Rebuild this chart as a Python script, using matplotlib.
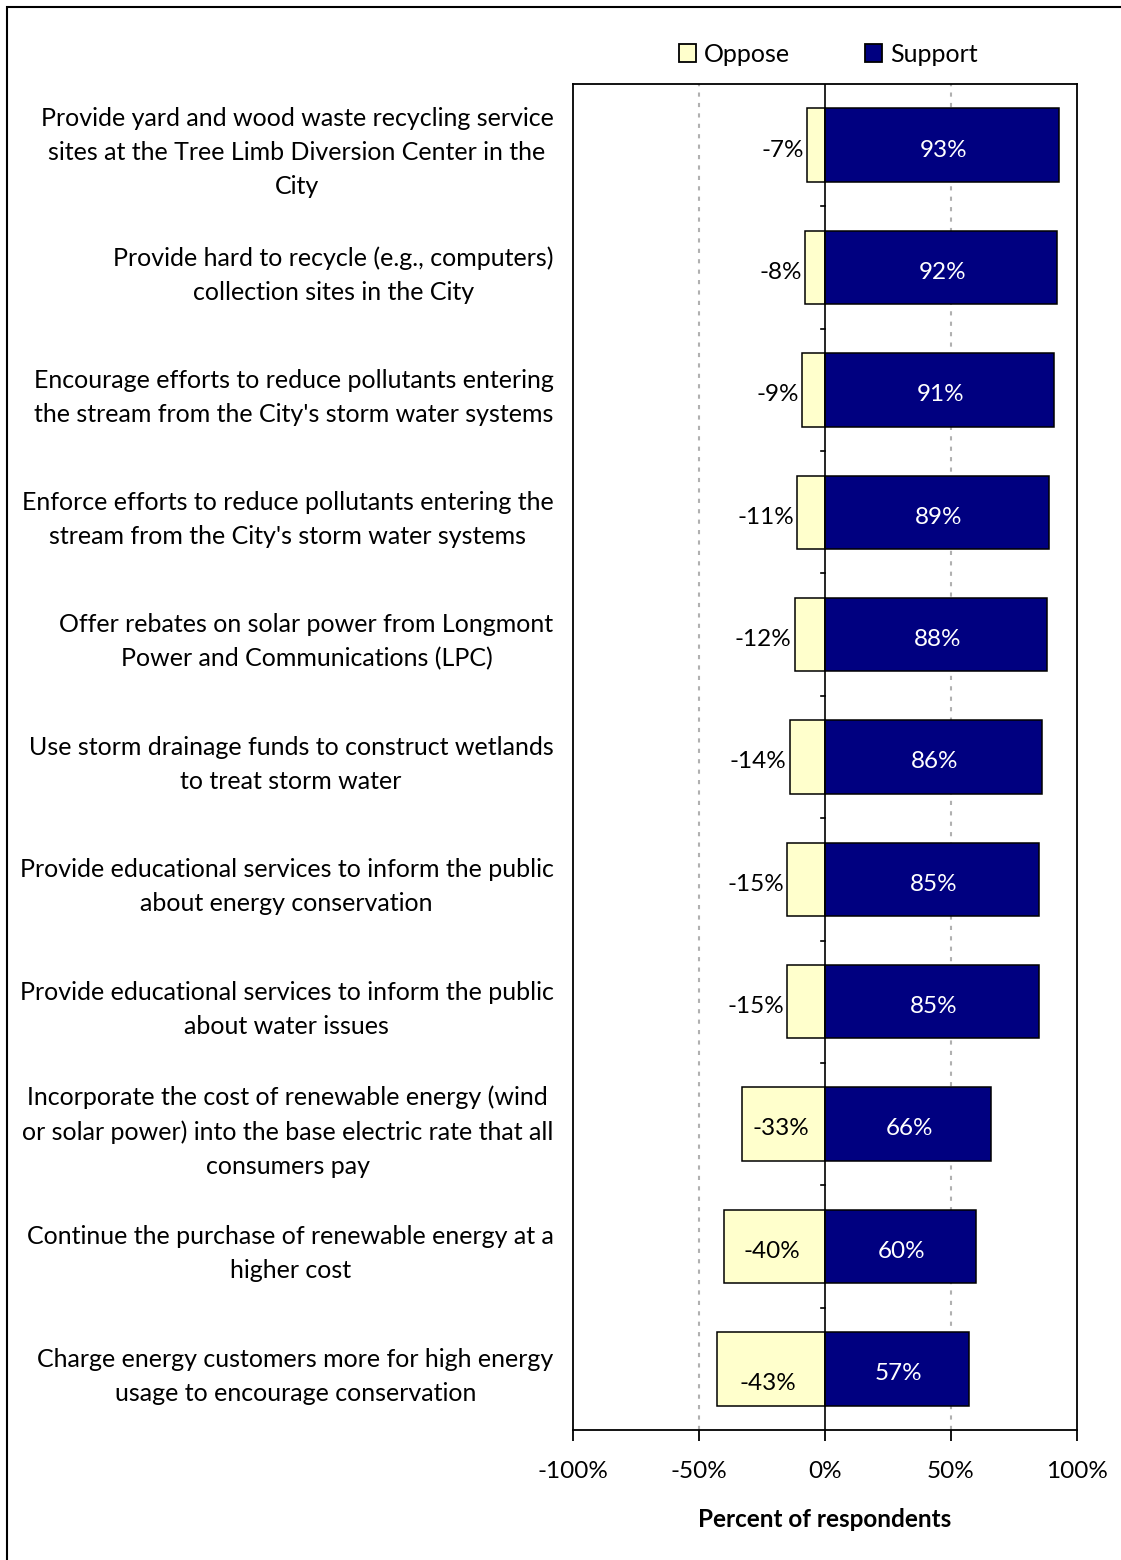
import matplotlib.pyplot as plt
from matplotlib.patches import Rectangle
import numpy as np

plt.rcParams['font.family'] = ['Lato', 'DejaVu Sans']

categorias = [
    "Provide yard and wood waste recycling service\nsites at the Tree Limb Diversion Center in the\nCity",
    "Provide hard to recycle (e.g., computers)\ncollection sites in the City",
    "Encourage efforts to reduce pollutants entering\nthe stream from the City's storm water systems",
    "Enforce efforts to reduce pollutants entering the\nstream from the City's storm water systems",
    "Offer rebates on solar power from Longmont\nPower and Communications (LPC)",
    "Use storm drainage funds to construct wetlands\nto treat storm water",
    "Provide educational services to inform the public\nabout energy conservation",
    "Provide educational services to inform the public\nabout water issues",
    "Incorporate the cost of renewable energy (wind\nor solar power) into the base electric rate that all\nconsumers pay",
    "Continue the purchase of renewable energy at a\nhigher cost",
    "Charge energy customers more for high energy\nusage to encourage conservation",
]
oppose = [-7, -8, -9, -11, -12, -14, -15, -15, -33, -40, -43]
support = [93, 92, 91, 89, 88, 86, 85, 85, 66, 60, 57]
xticks = [-100, -50, 0, 50, 100]
xtick_labels = ['-100%', '-50%', '0%', '50%', '100%']

cor_oppose = '#FFFFCC'
cor_support = '#000080'

fig = plt.figure(figsize=(11.21, 15.6), dpi=100)
ax = fig.add_axes([573 / 1121, 1 - 1430 / 1560, 504 / 1121, 1346 / 1560])

# moldura externa
fig.patches.append(Rectangle((7 / 1121, -0.05), 1.2, 1 - 7 / 1560 + 0.05,
                             transform=fig.transFigure, fill=False,
                             edgecolor='black', linewidth=1.5))

n = len(categorias)
y = np.arange(n)
altura = 0.6

ax.barh(y, oppose, height=altura, color=cor_oppose, edgecolor='black',
        linewidth=1.1, label='Oppose', zorder=3)
ax.barh(y, support, height=altura, color=cor_support, edgecolor='black',
        linewidth=1.1, label='Support', zorder=3)

ax.set_xlim(-100, 100)
ax.set_ylim(n - 0.5, -0.5)

fs_val = 17.5
for i in range(n):
    o = oppose[i]
    if abs(o) < 20:
        ax.text(o - 1.2, y[i] + 0.04, f'{o}%', ha='right', va='center',
                fontsize=fs_val, color='black', zorder=4)
    else:
        ax.text(o / 2 - 1, y[i] + (0.12 if i == n - 1 else 0.04), f'{o}%',
                ha='center', va='center', fontsize=fs_val, color='black', zorder=4)
    ax.text(support[i] / 2 + 0.5, y[i] + 0.04, f'{support[i]}%',
            ha='center', va='center', fontsize=fs_val, color='white', zorder=4)

# linhas de grade e eixo zero
for gx in [-50, 50]:
    ax.axvline(gx, color='#b0b0b0', linestyle=(0, (2, 3)), linewidth=1.5, zorder=1)
ax.axvline(0, color='black', linewidth=1.2, zorder=5)

# marcas pequenas entre categorias no zero
for b in np.arange(0.5, n - 1, 1.0):
    ax.plot([-1.6, 0], [b, b], color='black', linewidth=1.2, zorder=5)

ax.set_xticks(xticks)
ax.set_xticklabels(xtick_labels, fontsize=17.5)
ax.tick_params(axis='x', direction='out', length=8, width=1.3, pad=14)

ax.set_yticks(y)
ax.set_yticklabels(categorias, fontsize=18)
ax.tick_params(axis='y', length=0, pad=14)
for lab in ax.get_yticklabels():
    lab.set_multialignment('center')
    lab.set_linespacing(1.57)

for s in ax.spines.values():
    s.set_linewidth(1.3)
    s.set_color('black')

ax.set_xlabel('Percent of respondents', fontsize=17.5, fontweight='bold', labelpad=19)

leg = fig.legend(loc='center', bbox_to_anchor=(828 / 1121, 1 - 54 / 1560), ncol=2,
                 frameon=False, fontsize=18, handlelength=0.7, handleheight=0.7,
                 handletextpad=0.3, columnspacing=3.0)
for h in leg.legend_handles:
    h.set_linewidth(1.3)

fig.savefig('out.png', dpi=100)
